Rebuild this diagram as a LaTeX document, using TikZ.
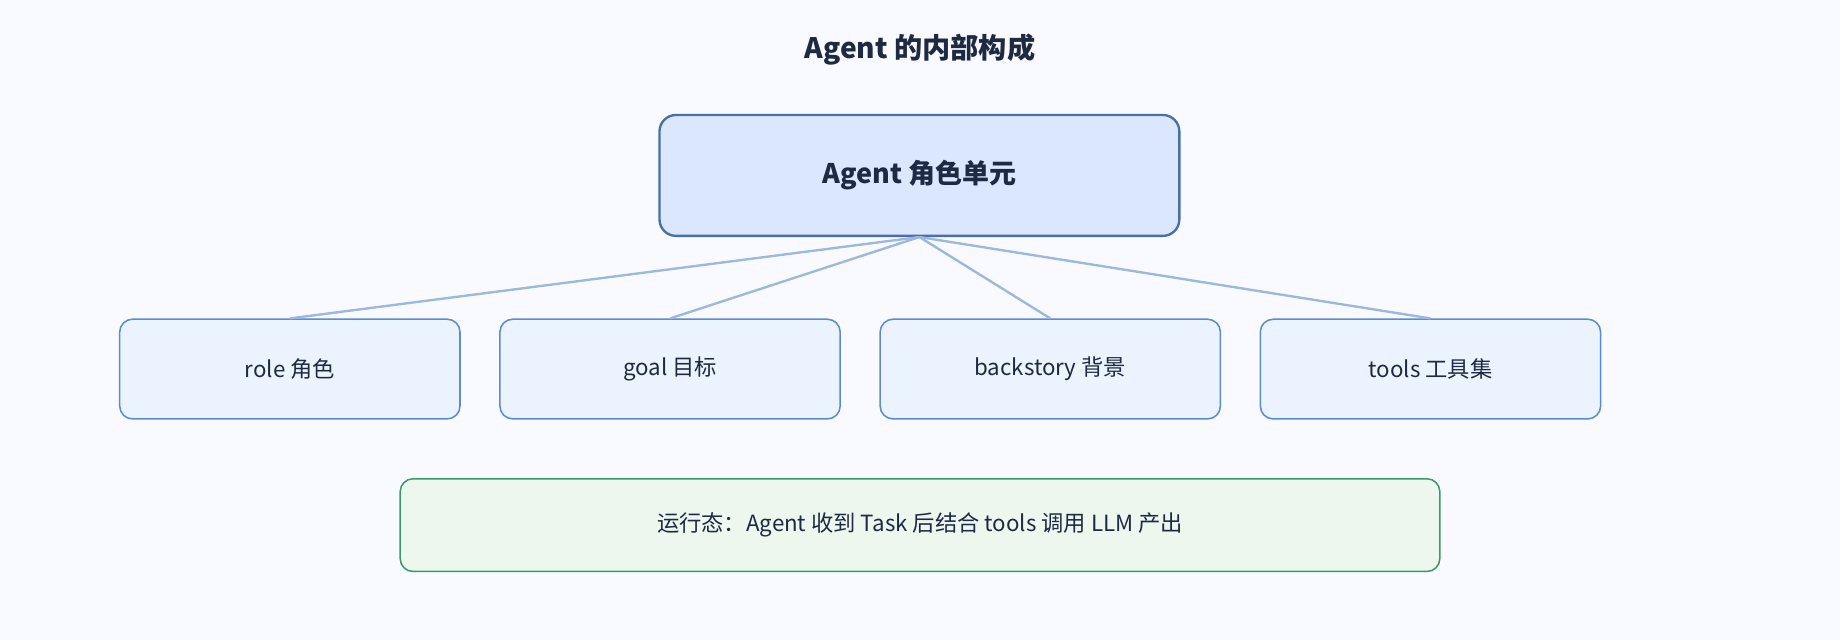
\documentclass[tikz,border=0pt]{standalone}
\usepackage{fontspec}
\setmainfont{Noto Sans CJK SC}
\definecolor{bg}{HTML}{F8FAFF}
\definecolor{txt}{HTML}{1E2A44}
\definecolor{mainfill}{HTML}{DBE7FE}
\definecolor{mainbd}{HTML}{4A6FA5}
\definecolor{subfill}{HTML}{EBF3FE}
\definecolor{subbd}{HTML}{5B8BD6}
\definecolor{notefill}{HTML}{EDF7EE}
\definecolor{notebd}{HTML}{3A9A6A}
\definecolor{link}{HTML}{9DB8DE}
\begin{document}
\begin{tikzpicture}[x=1pt,y=-1pt,
  mainbox/.style={draw=mainbd,fill=mainfill,line width=2pt,rounded corners=14pt,minimum width=443pt,minimum height=103pt,text=txt,font=\fontsize{23}{28}\selectfont\bfseries},
  subbox/.style={draw=subbd,fill=subfill,line width=1.3pt,rounded corners=11pt,minimum width=290pt,minimum height=85pt,text=txt,font=\fontsize{19}{24}\selectfont},
  notebox/.style={draw=notebd,fill=notefill,line width=1.3pt,rounded corners=11pt,minimum width=886pt,minimum height=79pt,text=txt,font=\fontsize{19}{24}\selectfont},
  conn/.style={draw=link,line width=2pt}]
\fill[bg] (0,0) rectangle (1568,545);
\node[text=txt,font=\fontsize{24}{30}\selectfont\bfseries] (title) at (784,42) {Agent 的内部构成};
\node[mainbox] (agent) at (783.5,149.5) {Agent 角色单元};
\node[subbox] (role) at (247,314.5) {role 角色};
\node[subbox] (goal) at (571,314.5) {goal 目标};
\node[subbox] (back) at (895,314.5) {backstory 背景};
\node[subbox] (tools) at (1219,314.5) {tools 工具集};
\node[notebox] (note) at (784,447.5) {运行态：Agent 收到 Task 后结合 tools 调用 LLM 产出};
\foreach \n in {role,goal,back,tools} \draw[conn] (agent.south) -- (\n.north);
\end{tikzpicture}
\end{document}
